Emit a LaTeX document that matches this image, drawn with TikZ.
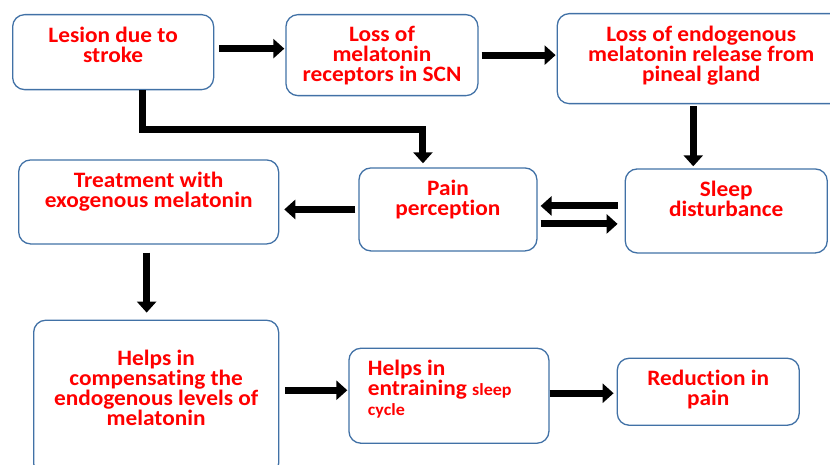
\documentclass[tikz,border=0pt]{standalone}
\usepackage{fontspec}
\setmainfont[Ligatures=NoCommon, FakeStretch=1.06]{Carlito}
\usepackage{tikz}
\usetikzlibrary{arrows.meta,positioning}
\definecolor{boxblue}{RGB}{65,113,166}
\definecolor{textred}{RGB}{255,0,0}
\newcommand{\stagetext}[4][12pt]{\parbox[c][#3][t]{#2}{\centering\vspace*{#1}#4}}

\begin{document}
\begin{tikzpicture}
	[stage/.style={draw=boxblue, line width=1.3pt, rounded corners=12pt, inner sep=0pt,
		text=textred, font=\bfseries\fontsize{22}{20}\selectfont, anchor=north west},
	flow/.style={line width=7pt, shorten <=3pt},
	>={Triangle[length=11pt,width=19pt]}]
	
	\useasboundingbox (0,0) rectangle (830pt,465pt);
	
	\node[stage] (lesion)     at (12pt,451pt)                                              {\stagetext{201pt}{75pt}{Lesion due to\\stroke}};
	\node[stage] (receptors)  [right=71pt of lesion.north east, anchor=north west]         {\stagetext{192pt}{81pt}{Loss of\\melatonin\\receptors in SCN}};
	\node[stage] (endogenous) [right=78pt of receptors.north east, anchor=north west, yshift=1pt] {\stagetext{288pt}{90pt}{Loss of endogenous\\melatonin release from\\pineal gland}};
	
	\node[stage] (treatment)  [below=69pt of lesion.south west, anchor=north west, xshift=6pt] {\stagetext{260pt}{84pt}{Treatment with\\exogenous melatonin}};
	\node[stage] (pain)       [right=79pt of treatment.north east, anchor=north west, yshift=-8pt] {\stagetext{178pt}{83pt}{Pain\\perception}};
	\node[stage] (sleep)      [right=87pt of pain.north east, anchor=north west, yshift=-1pt]  {\stagetext{202pt}{84pt}{Sleep\\disturbance}};
	
	\node[stage] (compensate) [below=75pt of treatment.south west, anchor=north west, xshift=15pt] {\stagetext[30pt]{245pt}{155pt}{Helps in\\compensating the\\endogenous levels of\\melatonin}};
	\node[stage] (entrain)    [right=69pt of compensate.north east, anchor=north west, yshift=-28pt] {\stagetext{200pt}{95pt}{\raggedright\leftskip=19pt Helps in\\entraining {\fontsize{17}{20}\selectfont sleep\\cycle}}};
	\node[stage] (reduction)  [right=67pt of entrain.north east, anchor=north west, yshift=-10pt] {\stagetext{182pt}{67pt}{Reduction in\\pain}};
	
	
	\draw [flow, ->, shorten <=5pt, shorten >=1pt] ([yshift=3.5pt]lesion.east) to ([yshift=3.5pt]lesion.east -| receptors.west);
	\draw [flow, ->, shorten >=1pt] (receptors.east) to (receptors.east -| endogenous.west);
	\draw [flow, ->, shorten <=2pt, shorten >=2pt] ([xshift=-8pt]endogenous.south) to ([xshift=-8pt]endogenous.south |- sleep.north);
	\draw [flow, ->, shorten <=0pt, shorten >=4pt] ([xshift=29.5pt]lesion.south) -- ++(0,-39pt) -| ([xshift=-25pt]pain.north);
	\draw [flow, ->, shorten >=5pt] (pain.west) to (pain.west -| treatment.east);
	\draw [flow, ->, shorten <=7pt, shorten >=3pt] ([yshift=5pt]sleep.west) to ([yshift=5pt]sleep.west -| pain.east);
	\draw [flow, ->, shorten >=7pt] ([yshift=-14.5pt]pain.east) to ([yshift=-14.5pt]pain.east -| sleep.west);
	\draw [flow, ->, shorten <=8pt, shorten >=7pt] ([xshift=-2pt]treatment.south) to ([xshift=-2pt]treatment.south |- compensate.north);
	\draw [flow, ->, shorten <=6pt, shorten >=1pt] ([yshift=7.5pt]compensate.east) to ([yshift=7.5pt]compensate.east -| entrain.west);
	\draw [flow, ->, shorten <=0pt, shorten >=3pt] ([yshift=2.5pt]entrain.east) to ([yshift=2.5pt]entrain.east -| reduction.west);
\end{tikzpicture}
\end{document}
